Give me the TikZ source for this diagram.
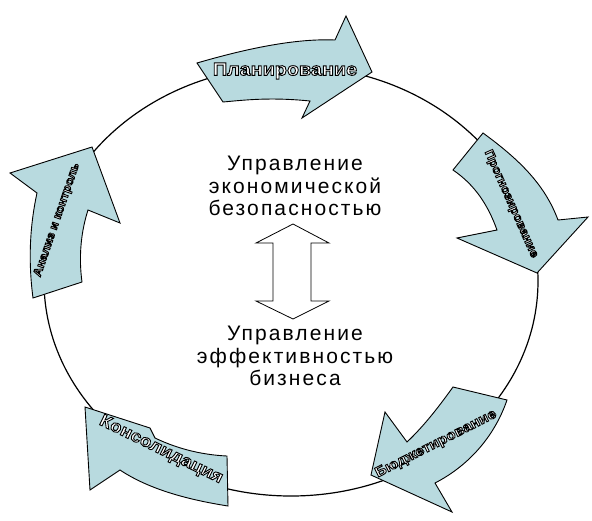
\documentclass[tikz,border=0pt]{standalone}
\usepackage{fontspec}
\newfontfamily\mainf{Liberation Sans}[LetterSpace=10]
\newfontfamily\arrf{Liberation Sans}[FakeStretch=1.1]
\definecolor{arrowblue}{RGB}{184,218,223}
\newcommand\outl[1]{{\color{white}\special{pdf:literal direct 0 0 0 RG 0.9 w 2 Tr}#1\special{pdf:literal direct 0 Tr}}}
\tikzset{
  blk/.style={fill=arrowblue, draw=black, line width=0.9pt, line join=miter},
  atext/.style={inner sep=0pt, font=\arrf\bfseries},
  ctext/.style={inner sep=0pt, align=center, anchor=north, font=\mainf\fontsize{21}{22.5}\selectfont},
}
\begin{document}
\begin{tikzpicture}[x=1pt,y=-1pt]
\useasboundingbox (0,0) rectangle (592,520);
\fill[white] (0,0) rectangle (592,520);
% cycle ellipse
\draw[line width=1.2pt] (291,281) ellipse [x radius=247, y radius=215];
% Planning
\draw[blk] (197,63) .. controls (235,52) and (290,38) .. (335,40) -- (346,16) -- (372,72) -- (302,118) -- (310,101)
  .. controls (270,97) and (245,100) .. (223,102) -- cycle;
% Forecasting
\draw[blk] (483,133) .. controls (520,160) and (545,185) .. (558,220) -- (588,217) -- (537,273) -- (457,238) -- (497,230)
  .. controls (488,205) and (475,185) .. (453,170) -- cycle;
% Budgeting
\draw[blk] (507,400) .. controls (495,435) and (470,465) .. (435,483) -- (452,512) -- (371,475) -- (385,412) -- (407,442)
  .. controls (425,425) and (440,405) .. (453,387) -- cycle;
% Consolidation
\draw[blk] (228,506) .. controls (190,500) and (150,490) .. (120,470) -- (90,490) -- (85,407) -- (150,428) -- (155,438)
  .. controls (180,450) and (205,455) .. (227,456) -- cycle;
% Analysis
\draw[blk] (33,298) .. controls (28,260) and (30,225) .. (37,193) -- (10,173) -- (92,147) -- (120,223) -- (88,210)
  .. controls (80,235) and (79,260) .. (82,282) -- cycle;
% arrow labels
\node[atext, font=\arrf\bfseries\fontsize{18}{18}\selectfont] (tplan) at (285,71) {\outl{Планирование}};
\node[atext, font=\arrf\bfseries\fontsize{12}{12}\selectfont, rotate=-66] (tfore) at (511,204) {\outl{Прогнозирование}};
\node[atext, font=\arrf\bfseries\fontsize{14}{14}\selectfont, rotate=27] (tbud) at (436,444) {\outl{Бюджетирование}};
\node[atext, font=\arrf\bfseries\fontsize{17}{17}\selectfont, rotate=-26] (tcons) at (161,450) {\outl{Консолидация}};
\node[atext, font=\arrf\bfseries\fontsize{11.5}{11.5}\selectfont, rotate=71] (tanal) at (57,220) {\outl{Анализ и контроль}};
% centre texts
\node[ctext] (top) at (295,156) {Управление\\экономической\\безопасностью};
\node[ctext] (bot) at (295,326) {Управление\\эффективностью\\бизнеса};
% double arrow
\draw[line width=0.8pt, fill=white, line join=miter] (293,224) -- (329,243) -- (311,243) -- (311,301) -- (329,301) -- (293,319)
  -- (256,301) -- (273,301) -- (273,243) -- (256,243) -- cycle;
\end{tikzpicture}
\end{document}
